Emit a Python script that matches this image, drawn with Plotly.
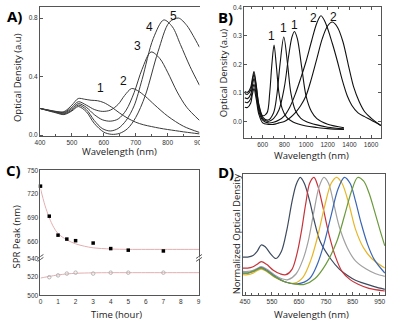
import plotly.graph_objects as go

# ---------------- Panel A data ----------------
A1_x = [400, 425, 450, 475, 500, 520, 540, 560, 580, 600, 625, 650, 675, 700, 725, 750, 775, 800, 825, 850, 875, 900]
A1_y = [0.182, 0.172, 0.162, 0.16, 0.205, 0.25, 0.245, 0.238, 0.235, 0.222, 0.19, 0.15, 0.115, 0.088, 0.07, 0.058, 0.047, 0.038, 0.03, 0.022, 0.015, 0.008]
A2_x = [400, 450, 475, 500, 520, 545, 570, 595, 620, 645, 665, 687, 705, 730, 760, 800, 850, 900]
A2_y = [0.182, 0.16, 0.155, 0.19, 0.228, 0.205, 0.175, 0.162, 0.17, 0.21, 0.27, 0.318, 0.305, 0.265, 0.205, 0.13, 0.06, 0.018]
A3_x = [400, 450, 475, 500, 520, 545, 570, 595, 620, 645, 670, 695, 720, 748, 775, 800, 830, 860, 900]
A3_y = [0.182, 0.158, 0.15, 0.18, 0.215, 0.19, 0.14, 0.105, 0.095, 0.11, 0.17, 0.29, 0.45, 0.568, 0.525, 0.43, 0.295, 0.19, 0.10]
A4_x = [400, 450, 475, 500, 520, 545, 570, 595, 620, 645, 670, 695, 720, 755, 788, 815, 840, 870, 900]
A4_y = [0.182, 0.155, 0.145, 0.17, 0.205, 0.175, 0.1, 0.045, 0.028, 0.045, 0.1, 0.2, 0.38, 0.66, 0.787, 0.74, 0.62, 0.47, 0.34]
A5_x = [400, 450, 475, 500, 520, 545, 570, 600, 625, 650, 675, 700, 730, 770, 805, 834, 860, 880, 900]
A5_y = [0.182, 0.152, 0.14, 0.165, 0.195, 0.16, 0.08, 0.02, 0.005, 0.012, 0.045, 0.12, 0.27, 0.57, 0.77, 0.80, 0.75, 0.68, 0.60]
A_labels = ["1", "2", "3", "4", "5"]

# ---------------- Panel B data ----------------
B1_x = [435, 460, 490, 505, 520, 540, 565, 600, 640, 665, 685, 705, 725, 750, 780, 820, 880, 1000, 1100, 1200, 1350]
B1_y = [0.105, 0.102, 0.12, 0.15, 0.175, 0.13, 0.06, 0.02, 0.03, 0.1, 0.2, 0.268, 0.2, 0.1, 0.045, 0.015, -0.002, -0.016, -0.021, -0.025, -0.028]
B2_x = [435, 460, 490, 505, 520, 540, 565, 600, 650, 700, 730, 760, 795, 830, 860, 900, 950, 1000, 1100, 1200, 1350]
B2_y = [0.098, 0.095, 0.11, 0.14, 0.165, 0.125, 0.055, 0.015, 0.005, 0.03, 0.09, 0.2, 0.296, 0.2, 0.1, 0.04, 0.012, 0.0, -0.012, -0.02, -0.026]
B3_x = [435, 460, 490, 505, 520, 540, 565, 600, 650, 700, 750, 800, 840, 870, 893, 920, 960, 1000, 1050, 1100, 1200, 1350]
B3_y = [0.083, 0.08, 0.095, 0.125, 0.15, 0.11, 0.045, 0.01, 0.0, 0.01, 0.04, 0.12, 0.23, 0.295, 0.315, 0.29, 0.19, 0.09, 0.035, 0.01, -0.01, -0.022]
B4_x = [435, 460, 490, 505, 520, 540, 565, 600, 650, 700, 750, 800, 850, 900, 950, 1000, 1050, 1100, 1138, 1180, 1243, 1290, 1332, 1380, 1422, 1480, 1541, 1600, 1690]
B4_y = [0.068, 0.066, 0.08, 0.11, 0.13, 0.095, 0.035, 0.005, -0.005, -0.003, 0.005, 0.02, 0.05, 0.095, 0.15, 0.21, 0.28, 0.345, 0.37, 0.345, 0.273, 0.21, 0.148, 0.09, 0.057, 0.03, 0.017, 0.005, -0.014]
B5_x = [435, 460, 490, 505, 520, 540, 565, 600, 650, 700, 750, 800, 850, 900, 950, 1000, 1050, 1100, 1150, 1200, 1243, 1290, 1340, 1392, 1440, 1490, 1541, 1600, 1690]
B5_y = [0.05, 0.049, 0.065, 0.095, 0.115, 0.08, 0.025, -0.005, -0.01, -0.01, -0.005, 0.0, 0.012, 0.03, 0.055, 0.09, 0.15, 0.22, 0.29, 0.335, 0.348, 0.33, 0.28, 0.195, 0.12, 0.07, 0.034, 0.012, -0.014]
B_labels = ["1", "1", "1", "2", "2"]

# ---------------- Panel C data ----------------
C_time = [0, 0.5, 1, 1.5, 2, 3, 4, 5, 7]
C_peak_long = [730, 692, 668, 663, 661, 658, 651, 649, 648]
C_time_short = [0.5, 1, 1.5, 2, 3, 4, 5, 7]
C_peak_short = [520, 522, 524, 525, 524, 525, 525, 525]
C_fit_t = [0, 0.25, 0.5, 0.75, 1, 1.5, 2, 2.5, 3, 4, 5, 6, 7, 8, 9.03]
C_fit_long = [727, 706, 690, 678, 670, 662, 657, 654, 652, 650.5, 650, 650, 650, 650, 650]
C_fit_short = [519, 520, 520.8, 521.7, 522.5, 523.6, 524.3, 524.6, 524.8, 525, 525, 525, 525, 525, 525]

# ---------------- Panel D data ----------------
D1_x = [441, 460, 480, 495, 510, 525, 545, 565, 585, 605, 625, 640, 655, 670, 690, 706, 730, 767, 800, 828, 860, 889, 930, 969]
D1_y = [0.322, 0.322, 0.335, 0.37, 0.425, 0.41, 0.35, 0.31, 0.37, 0.55, 0.8, 0.94, 1.0, 0.95, 0.8, 0.64, 0.45, 0.31, 0.22, 0.17, 0.125, 0.1, 0.07, 0.047]
D2_x = [441, 460, 480, 495, 510, 530, 555, 580, 602, 625, 645, 660, 675, 690, 706, 720, 740, 760, 785, 810, 840, 870, 910, 969]
D2_y = [0.228, 0.228, 0.24, 0.26, 0.283, 0.26, 0.21, 0.18, 0.172, 0.22, 0.37, 0.55, 0.77, 0.95, 1.0, 0.93, 0.74, 0.53, 0.33, 0.2, 0.13, 0.09, 0.055, 0.033]
D3_x = [441, 460, 480, 495, 510, 530, 560, 590, 610, 640, 665, 685, 705, 725, 743, 760, 780, 800, 830, 860, 900, 935, 969]
D3_y = [0.2, 0.2, 0.21, 0.225, 0.24, 0.22, 0.17, 0.135, 0.13, 0.18, 0.3, 0.46, 0.7, 0.92, 1.0, 0.95, 0.77, 0.58, 0.4, 0.29, 0.22, 0.18, 0.158]
D4_x = [441, 460, 480, 495, 510, 530, 560, 600, 633, 665, 695, 720, 745, 770, 790, 810, 835, 860, 890, 920, 969]
D4_y = [0.172, 0.172, 0.185, 0.205, 0.22, 0.2, 0.15, 0.11, 0.1, 0.15, 0.3, 0.5, 0.75, 0.95, 1.0, 0.95, 0.78, 0.56, 0.4, 0.31, 0.228]
D5_x = [441, 460, 480, 495, 510, 530, 560, 600, 645, 690, 720, 745, 770, 795, 819, 840, 860, 880, 905, 930, 969]
D5_y = [0.186, 0.186, 0.2, 0.218, 0.233, 0.21, 0.16, 0.11, 0.094, 0.14, 0.27, 0.45, 0.68, 0.9, 1.0, 0.95, 0.8, 0.62, 0.43, 0.3, 0.186]
D6_x = [441, 460, 480, 495, 510, 530, 560, 600, 640, 670, 710, 750, 790, 820, 845, 868, 890, 910, 930, 950, 969]
D6_y = [0.186, 0.186, 0.2, 0.215, 0.228, 0.205, 0.155, 0.11, 0.092, 0.089, 0.14, 0.26, 0.45, 0.68, 0.88, 1.0, 0.97, 0.87, 0.72, 0.56, 0.417]
D_colors = ["#3c4a5e", "#c8333a", "#a0a0a0", "#e7b628", "#3a66b6", "#6b9a3c"]

W, H = 400, 325
def px(x):
    return x / W
def py(y):
    return 1 - y / H

fig = go.Figure()

def line(x, y, xa, ya, color, width):
    fig.add_trace(go.Scatter(x=x, y=y, mode="lines", xaxis=xa, yaxis=ya, showlegend=False,
                             line=dict(color=color, width=width, shape="spline", smoothing=0.9),
                             hoverinfo="skip"))

for xs, ys in [(A1_x, A1_y), (A2_x, A2_y), (A3_x, A3_y), (A4_x, A4_y), (A5_x, A5_y)]:
    line(xs, ys, "x", "y", "#3a3a3a", 1)
for xs, ys in [(B1_x, B1_y), (B2_x, B2_y), (B3_x, B3_y), (B4_x, B4_y), (B5_x, B5_y)]:
    line(xs, ys, "x2", "y2", "#111111", 1.1)

# C fits and points
line(C_fit_t, C_fit_long, "x4", "y4", "#e3aeb0", 1)
line(C_fit_t, C_fit_short, "x3", "y3", "#e3aeb0", 1)
fig.add_trace(go.Scatter(x=C_time, y=C_peak_long, mode="markers", xaxis="x4", yaxis="y4", showlegend=False,
                         marker=dict(symbol="square", size=3.5, color="#000000"), cliponaxis=False))
fig.add_trace(go.Scatter(x=C_time_short, y=C_peak_short, mode="markers", xaxis="x3", yaxis="y3", showlegend=False,
                         marker=dict(symbol="circle-open", size=3.5, color="#b5b5b5", line=dict(width=1)), cliponaxis=False))

for (xs, ys), c in zip([(D1_x, D1_y), (D2_x, D2_y), (D3_x, D3_y), (D4_x, D4_y), (D5_x, D5_y), (D6_x, D6_y)], D_colors):
    line(xs, ys, "x5", "y5", c, 1.2)

tickfont = dict(family="Liberation Sans, Arial, sans-serif", size=6.5, color="#333333")
ax_common = dict(showline=True, linecolor="#555555", linewidth=1, showgrid=False, zeroline=False,
                 ticks="inside", ticklen=3, tickcolor="#555555", tickfont=tickfont)

fig.update_layout(
    width=W, height=H, margin=dict(l=0, r=0, t=0, b=0),
    paper_bgcolor="white", plot_bgcolor="white",
    xaxis=dict(ax_common, domain=[px(36), px(200)], range=[400, 900], anchor="y", mirror=True,
               tickvals=[400, 500, 600, 700, 800, 900], minor=dict(dtick=50, ticks="inside", ticklen=2, tickcolor="#555555")),
    yaxis=dict(ax_common, domain=[py(135), py(3)], range=[-0.007, 0.876], anchor="x",
               tickvals=[0, 0.4, 0.8], tickformat=".1f"),
    xaxis2=dict(ax_common, domain=[px(246), px(387)], range=[430, 1695], anchor="y2", mirror="ticks",
                tickvals=[600, 800, 1000, 1200, 1400, 1600], minor=dict(dtick=100, ticks="inside", ticklen=2, tickcolor="#555555")),
    yaxis2=dict(ax_common, domain=[py(137), py(3)], range=[-0.058, 0.401], anchor="x2", mirror="ticks",
                tickvals=[0, 0.1, 0.2, 0.3, 0.4], tickformat=".1f"),
    xaxis3=dict(ax_common, domain=[px(36.5), px(199.5)], range=[0, 9.03], anchor="y3", ticks="",
                tickvals=list(range(10))),
    yaxis3=dict(ax_common, domain=[py(297.7), py(259.5)], range=[500, 541.3], anchor="x3", mirror=True, ticks="",
                tickvals=[500, 520, 540]),
    xaxis4=dict(ax_common, domain=[px(36.5), px(199.5)], range=[0, 9.03], anchor="y4", side="top",
                showticklabels=False, ticks="", matches="x3"),
    yaxis4=dict(ax_common, domain=[py(259.5), py(170)], range=[639.2, 750], anchor="x4", mirror=True, ticks="",
                tickvals=[660, 690, 720, 750]),
    xaxis5=dict(ax_common, domain=[px(244.3), px(390.7)], range=[441, 969.5], anchor="y5", mirror=True,
                tickvals=[450, 550, 650, 750, 850, 950], minor=dict(dtick=25, ticks="inside", ticklen=2, tickcolor="#555555")),
    yaxis5=dict(ax_common, domain=[py(297.3), py(173.3)], range=[0, 1.033], anchor="x5", mirror=True,
                showticklabels=False, ticks=""),
)

titlefont = dict(family="Open Sans, sans-serif", size=9.5, color="#222222")
letterfont = dict(family="Open Sans, sans-serif", size=15, color="#000000")
numfont = dict(family="Liberation Sans, Arial, sans-serif", size=12, color="#111111")

ann = []
def text(t, x, y, font, angle=0):
    ann.append(dict(text=t, x=px(x), y=py(y), xref="paper", yref="paper", showarrow=False,
                    xanchor="center", yanchor="middle", font=font, textangle=angle))

text("<b>A)</b>", 10, 12, letterfont)
text("<b>B)</b>", 227, 13, letterfont)
text("<b>C)</b>", 9, 170, letterfont)
text("<b>D)</b>", 227, 172, letterfont)

text("Wavelength (nm)", 118, 151, titlefont)
text("Optical Density (a.u)", 13, 75, titlefont, -90)
text("Wavelength (nm)", 315, 155, titlefont)
text("Optical Density (a.u)", 225, 70, titlefont, -90)
text("Time (hour)", 115, 317, titlefont)
text("SPR Peak (nm)", 12, 238, titlefont, -90)
text("Wavelength (nm)", 315, 317, titlefont)
text("Normalized Optical Density", 239, 235, titlefont, -90)

for lab, (x, y) in zip(A_labels, [(97.7, 86), (121.7, 78.3), (136, 42.7), (149, 23.3), (173.3, 12.7)]):
    text(lab, x, y, numfont)
for lab, (x, y) in zip(B_labels, [(274, 32.7), (286, 25), (297.3, 21.7), (317.3, 14), (338.3, 13.3)]):
    text(lab, x, y, numfont)

fig.update_layout(annotations=ann)

# axis break marks and clip of the cut-off panel edge
shapes = []
for xb in [36.5, 199.5]:
    for dy in [-1.5, 1.5]:
        shapes.append(dict(type="line", xref="paper", yref="paper",
                           x0=px(xb - 3), y0=py(259.5 + dy + 2), x1=px(xb + 3), y1=py(259.5 + dy - 2),
                           line=dict(color="#555555", width=1)))
    shapes.append(dict(type="rect", xref="paper", yref="paper", x0=px(xb - 0.6), x1=px(xb + 0.6),
                       y0=py(260.7), y1=py(258.3), fillcolor="white", line=dict(width=0), layer="above"))
shapes.append(dict(type="rect", xref="paper", yref="paper", x0=px(200.5), x1=px(212), y0=py(150), y1=py(136),
                   fillcolor="white", line=dict(width=0), layer="above"))
fig.update_layout(shapes=shapes)

fig.write_html("out.html")
